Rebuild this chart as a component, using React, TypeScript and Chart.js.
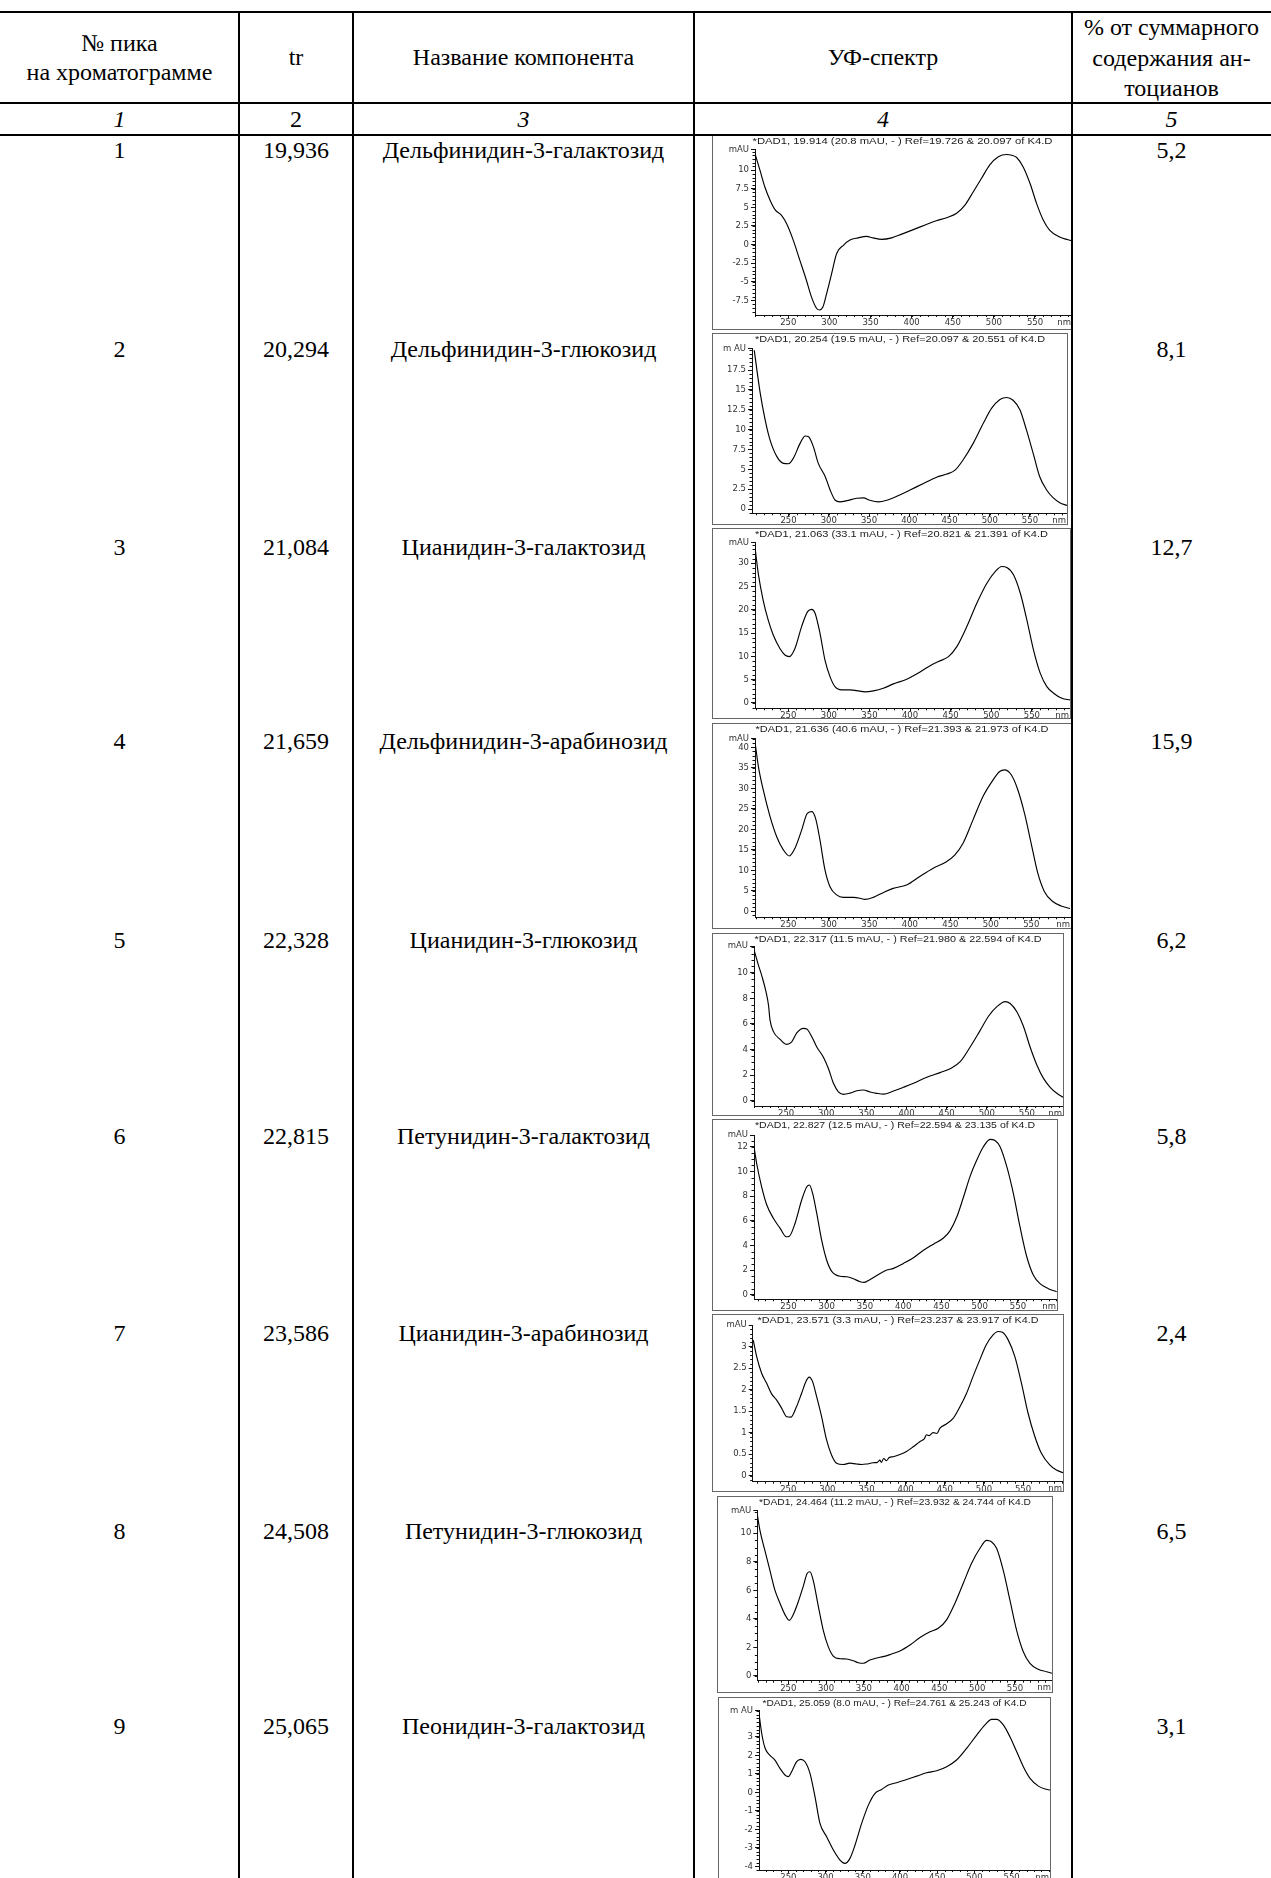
import React, { useEffect, useRef } from 'react';
import { Chart, registerables } from 'chart.js';

Chart.register(...registerables);

// ---------------- table data ----------------
const peakNumbers = ['1', '2', '3', '4', '5', '6', '7', '8', '9'];
const retentionTimes = ['19,936', '20,294', '21,084', '21,659', '22,328', '22,815', '23,586', '24,508', '25,065'];
const componentNames = [
  'Дельфинидин-3-галактозид',
  'Дельфинидин-3-глюкозид',
  'Цианидин-3-галактозид',
  'Дельфинидин-3-арабинозид',
  'Цианидин-3-глюкозид',
  'Петунидин-3-галактозид',
  'Цианидин-3-арабинозид',
  'Петунидин-3-глюкозид',
  'Пеонидин-3-галактозид',
];
const percentages = ['5,2', '8,1', '12,7', '15,9', '6,2', '5,8', '2,4', '6,5', '3,1'];
const spectrumTitles = [
  '*DAD1, 19.914 (20.8 mAU, - ) Ref=19.726 & 20.097 of K4.D',
  '*DAD1, 20.254 (19.5 mAU, - ) Ref=20.097 & 20.551 of K4.D',
  '*DAD1, 21.063 (33.1 mAU, - ) Ref=20.821 & 21.391 of K4.D',
  '*DAD1, 21.636 (40.6 mAU, - ) Ref=21.393 & 21.973 of K4.D',
  '*DAD1, 22.317 (11.5 mAU, - ) Ref=21.980 & 22.594 of K4.D',
  '*DAD1, 22.827 (12.5 mAU, - ) Ref=22.594 & 23.135 of K4.D',
  '*DAD1, 23.571 (3.3 mAU, - ) Ref=23.237 & 23.917 of K4.D',
  '*DAD1, 24.464 (11.2 mAU, - ) Ref=23.932 & 24.744 of K4.D',
  '*DAD1, 25.059 (8.0 mAU, - ) Ref=24.761 & 25.243 of K4.D',
];
const unitLabels = ['mAU', 'm AU', 'mAU', 'mAU', 'mAU', 'mAU', 'mAU', 'mAU', 'm AU'];
const headerCol1 = ['№ пика', 'на хроматограмме'];
const headerCol2 = 'tr';
const headerCol3 = 'Название компонента';
const headerCol4 = 'УФ-спектр';
const headerCol5 = ['% от суммарного', 'содержания ан-', 'тоцианов'];
const columnNumbers = ['1', '2', '3', '4', '5'];

// ---------------- spectra (wavelength nm / absorbance mAU) ----------------
const nm1 = [209.5, 215.5, 221.6, 227.7, 233.8, 242, 248, 256, 264, 272, 278, 284.5, 288, 292, 296.6, 302.7, 308.8, 317, 325, 335, 345, 353, 363.5, 375.7, 388, 402, 418, 430, 442.5, 454.7, 464.8, 475, 485, 495, 505.4, 515.5, 521.6, 527.7, 535.8, 544, 552, 560, 568, 580, 590, 595];
const au1 = [12.2, 10, 7.7, 6.0, 4.7, 3.9, 2.8, 0.6, -2.1, -4.8, -7.0, -8.6, -8.8, -8.4, -6.6, -3.9, -1.2, -0.1, 0.6, 0.9, 1.1, 0.9, 0.7, 0.9, 1.4, 2.0, 2.7, 3.2, 3.6, 4.2, 5.3, 7.1, 8.9, 10.7, 11.8, 12.1, 12.0, 11.7, 10.4, 8.2, 5.5, 3.3, 1.9, 1.0, 0.65, 0.5];

const nm2 = [207.4, 210.7, 214.8, 221, 227, 235.5, 243.8, 250, 256, 264.5, 270.7, 275, 281, 287, 295.5, 301.7, 308, 314, 322.4, 334.8, 343, 351, 361.7, 372, 384.5, 401, 417.6, 434, 446.5, 456.9, 467, 479.6, 492, 502.4, 512.7, 521, 529, 537.5, 545.8, 554, 562, 570.7, 579, 587, 596];
const au2 = [20.0, 17.5, 14.6, 11.2, 8.7, 6.6, 5.75, 5.7, 6.4, 8.3, 9.2, 9.1, 7.8, 5.75, 4.1, 2.4, 1.1, 0.9, 1.05, 1.35, 1.4, 1.1, 0.9, 1.1, 1.6, 2.4, 3.2, 4.0, 4.4, 4.9, 6.2, 8.3, 10.8, 12.7, 13.8, 14.05, 13.7, 12.5, 9.9, 7.0, 4.1, 2.4, 1.4, 0.8, 0.45];

const nm3 = [208.9, 213, 219, 225.3, 231.5, 239.7, 245.9, 251.2, 258.2, 266.4, 273.8, 278.8, 282.9, 289, 295.2, 301.4, 307.5, 315.8, 326, 334.3, 344.5, 354.8, 367, 379.5, 395.9, 408, 422.6, 435, 447.3, 457.6, 469.9, 482.2, 494.6, 504.8, 513, 519.2, 527.4, 535.7, 543.9, 552, 560.3, 568.5, 576.8, 587, 597];
const au3 = [33.6, 27.8, 22.1, 17.8, 14.6, 11.7, 10.3, 9.95, 11.7, 16.4, 19.6, 20.1, 19.3, 15.0, 9.2, 5.65, 3.5, 2.8, 2.8, 2.65, 2.4, 2.6, 3.15, 4.1, 5.1, 6.2, 7.8, 8.9, 9.95, 12.1, 16.4, 21.4, 25.7, 28.2, 29.3, 29.1, 27.5, 23.6, 17.8, 11.4, 6.4, 3.5, 2.1, 1.0, 0.65];

const nm4 = [209, 213, 219, 227.4, 235.6, 243.8, 251.2, 258.2, 266.4, 273.4, 279.2, 284.1, 289, 295.2, 301.4, 309.6, 317.8, 330.2, 338.4, 344.5, 354.8, 367, 379.5, 395.9, 412.3, 428.8, 445.2, 455.4, 465.7, 478, 490.3, 502.6, 510.9, 517, 525.2, 533.4, 541.6, 549.8, 558, 566.2, 576.5, 586.8, 597.8];
const au4 = [41, 35.3, 29.6, 23.1, 18.2, 15.0, 13.5, 15.4, 19.8, 23.9, 24.3, 22.3, 17.4, 10.1, 6.0, 4.0, 3.4, 3.4, 3.2, 2.9, 3.4, 4.55, 5.6, 6.4, 8.5, 10.5, 12.1, 13.7, 16.6, 22.3, 28.0, 32.0, 34.1, 34.5, 33.3, 29.6, 23.9, 16.6, 9.3, 4.8, 2.4, 1.3, 0.7];

const nm5 = [210, 215, 220, 225, 228, 230, 234.2, 242.5, 250.8, 257, 263.3, 271.6, 275.8, 282, 288.2, 296.5, 302.8, 309, 315.2, 321.5, 329.8, 338, 346.4, 354.7, 363, 371.3, 383.8, 396.2, 408.7, 425.3, 442, 454.4, 466.9, 479.3, 491.8, 502.2, 512.6, 523, 529.2, 537.5, 545.8, 554, 562.4, 570.7, 579, 587.3, 595];
const au5 = [11.8, 10.7, 9.7, 8.5, 7.5, 6.3, 5.4, 4.8, 4.4, 4.6, 5.3, 5.65, 5.6, 5.0, 4.2, 3.4, 2.5, 1.36, 0.7, 0.5, 0.6, 0.78, 0.84, 0.68, 0.58, 0.52, 0.76, 1.05, 1.36, 1.83, 2.2, 2.5, 3.05, 4.2, 5.5, 6.6, 7.35, 7.75, 7.6, 6.95, 5.8, 4.2, 2.8, 1.75, 1.05, 0.58, 0.27];

const nm6 = [205, 208.6, 215, 221.6, 230.3, 239, 247, 251.3, 258.7, 267.4, 274, 277.4, 281.7, 287, 293.5, 300, 306.6, 317.5, 326.2, 334.9, 343.7, 349, 356.8, 369.8, 378.5, 387.3, 400.3, 413.4, 426.5, 439.5, 452.6, 461.3, 470, 478.7, 487.4, 496, 504.8, 513.5, 520, 526.6, 535.3, 544, 552.7, 561.4, 570, 578.8, 589.7, 600.6];
const au6 = [12.0, 10.6, 8.75, 7.3, 6.2, 5.4, 4.7, 4.75, 5.8, 7.7, 8.75, 8.9, 8.2, 6.6, 4.4, 2.8, 1.9, 1.5, 1.46, 1.3, 1.05, 1.0, 1.24, 1.73, 2.0, 2.14, 2.54, 3.0, 3.6, 4.1, 4.6, 5.2, 6.3, 7.9, 9.6, 10.9, 12.0, 12.6, 12.5, 12.0, 10.4, 8.2, 5.5, 3.1, 1.6, 0.9, 0.49, 0.24];

const nm7 = [205.3, 209.6, 216, 222.3, 228.7, 235, 241.5, 247.9, 253.4, 259.8, 267, 272.6, 276.8, 281, 286.2, 292.6, 299, 305.3, 311.7, 320.2, 328.7, 337.2, 343.6, 350, 358.5, 364, 367, 369, 372, 375.5, 379, 384, 392.6, 401, 409.6, 418, 424, 426.6, 430, 435, 440, 443.6, 452, 460.6, 469, 477.7, 486, 494.7, 503, 511.7, 518, 523.6, 530.8, 539.4, 547.9, 556.4, 565, 573.4, 584, 592.6, 601];
const au7 = [3.15, 2.77, 2.38, 2.15, 1.9, 1.76, 1.57, 1.37, 1.36, 1.57, 1.91, 2.19, 2.29, 2.19, 1.84, 1.37, 0.83, 0.48, 0.29, 0.26, 0.29, 0.27, 0.26, 0.27, 0.30, 0.31, 0.36, 0.31, 0.40, 0.35, 0.42, 0.44, 0.49, 0.56, 0.67, 0.79, 0.86, 0.95, 0.93, 1.0, 0.98, 1.1, 1.2, 1.33, 1.59, 1.91, 2.3, 2.69, 3.04, 3.27, 3.35, 3.33, 3.16, 2.77, 2.15, 1.45, 0.91, 0.52, 0.25, 0.13, 0.07];

const nm8 = [209, 212.5, 219, 225.7, 232.4, 239, 245.6, 251.3, 256.6, 263.2, 269.9, 275.1, 278.7, 283, 289.7, 296.3, 302.9, 309.5, 318.4, 327.2, 336, 342.6, 349.3, 358, 367, 375.7, 384.5, 397.8, 411, 424.3, 437.5, 448.5, 459.5, 470.6, 481.6, 492.6, 503.7, 512.5, 519, 525.7, 534.5, 543.4, 552.2, 561, 569.8, 580.8, 591.9, 599];
const au8 = [11.3, 10.2, 8.8, 7.4, 6.0, 5.1, 4.3, 3.9, 4.3, 5.2, 6.3, 7.2, 7.3, 6.7, 4.9, 3.2, 2.06, 1.4, 1.21, 1.19, 1.07, 0.93, 0.89, 1.12, 1.26, 1.36, 1.5, 1.75, 2.17, 2.69, 3.1, 3.34, 3.93, 5.1, 6.5, 7.9, 8.95, 9.5, 9.4, 8.95, 7.4, 5.3, 3.2, 1.7, 0.89, 0.47, 0.30, 0.19];

const nm9 = [210.6, 214.2, 218.7, 225.4, 232, 238.8, 245.5, 250, 255.4, 261.2, 266.6, 272.4, 279.1, 285.8, 292.5, 301.5, 310.5, 319.4, 326.1, 332.8, 339.6, 348.5, 357.5, 366.5, 375.4, 384.4, 395.5, 409, 422.4, 435.8, 449.3, 462.7, 476, 489.5, 503, 514.2, 523, 529.9, 538.8, 547.8, 556.8, 565.7, 574.7, 585.9, 594.8, 601.5];
const au9 = [4.28, 3.2, 2.4, 2.0, 1.75, 1.3, 0.94, 0.85, 1.2, 1.66, 1.79, 1.66, 1.03, -0.23, -1.68, -2.4, -3.12, -3.66, -3.84, -3.57, -2.85, -1.68, -0.69, -0.05, 0.16, 0.4, 0.52, 0.7, 0.88, 1.06, 1.17, 1.39, 1.75, 2.38, 3.1, 3.65, 3.95, 3.95, 3.65, 3.0, 2.2, 1.39, 0.76, 0.34, 0.18, 0.13];

const wavelengths = [nm1, nm2, nm3, nm4, nm5, nm6, nm7, nm8, nm9];
const absorbances = [au1, au2, au3, au4, au5, au6, au7, au8, au9];

// ---------------- axis ticks ----------------
const xTickLabels = [250, 300, 350, 400, 450, 500, 550];
const xMinorStep = 10;
const yTicks1 = [-7.5, -5, -2.5, 0, 2.5, 5, 7.5, 10];
const yTicks2 = [0, 2.5, 5, 7.5, 10, 12.5, 15, 17.5];
const yTicks3 = [0, 5, 10, 15, 20, 25, 30];
const yTicks4 = [0, 5, 10, 15, 20, 25, 30, 35, 40];
const yTicks5 = [0, 2, 4, 6, 8, 10];
const yTicks6 = [0, 2, 4, 6, 8, 10, 12];
const yTicks7 = [0, 0.5, 1, 1.5, 2, 2.5, 3];
const yTicks8 = [0, 2, 4, 6, 8, 10];
const yTicks9 = [-4, -3, -2, -1, 0, 1, 2, 3];
const yTickSets = [yTicks1, yTicks2, yTicks3, yTicks4, yTicks5, yTicks6, yTicks7, yTicks8, yTicks9];
const yMinorSteps = [0.5, 0.5, 1, 1, 0.5, 0.5, 0.1, 0.5, 0.2];
const xMins = [209.5, 204.6, 209, 208.8, 210, 205, 204.6, 209, 210.6];
const xMaxs = [595, 596, 597, 599, 595, 601, 601, 599, 601.5];
const yMins = [-9.47, -0.54, -1.14, -1.46, -0.41, -0.37, -0.14, -0.33, -4.2];
const yMaxs = [12.8, 20.24, 34.4, 42.2, 12.09, 12.95, 3.5, 11.58, 4.42];

// ---------------- layout (page pixels) ----------------
const BOXES = [
  { left: 712, top: 135, right: 1073, bottom: 330, plotLeft: 755, plotTop: 149.3, axisY: 315, titleW: 300 },
  { left: 712, top: 333, right: 1068, bottom: 525, plotLeft: 752, plotTop: 348.3, axisY: 513.3, titleW: 290 },
  { left: 712, top: 528, right: 1071, bottom: 719, plotLeft: 755, plotTop: 542.7, axisY: 708.3, titleW: 293 },
  { left: 712, top: 723, right: 1072, bottom: 929, plotLeft: 755, plotTop: 738.3, axisY: 917.3, titleW: 293 },
  { left: 712, top: 933, right: 1064, bottom: 1116, plotLeft: 754, plotTop: 946, axisY: 1106, titleW: 287 },
  { left: 712, top: 1119, right: 1058, bottom: 1311, plotLeft: 754, plotTop: 1135, axisY: 1299.3, titleW: 280 },
  { left: 712, top: 1314, right: 1064, bottom: 1492, plotLeft: 752.7, plotTop: 1325, axisY: 1481.7, titleW: 281 },
  { left: 717, top: 1496, right: 1053, bottom: 1693, plotLeft: 757.3, plotTop: 1510.7, axisY: 1680.7, titleW: 272 },
  { left: 718, top: 1697, right: 1051, bottom: 1882, plotLeft: 759, plotTop: 1710.7, axisY: 1870, titleW: 264 },
];
const COLS = [0, 239, 353, 694, 1072, 1271];
const LINE_TOP = 12;
const LINE_HEAD = 103;
const LINE_NUM = 135;
const ROW_CY = [150, 349, 547, 741, 940, 1136, 1333, 1531, 1726];
const SERIF = '"Liberation Serif", "Times New Roman", serif';
const SANS = '"DejaVu Sans", "Liberation Sans", sans-serif';
const TEXT_SIZE = 24;

const minorTicksPlugin = {
  id: 'minorTicks',
  afterDraw(chart: any, _args: any, opts: any) {
    const { ctx, chartArea } = chart;
    const xs = chart.scales.x;
    const ys = chart.scales.y;
    ctx.save();
    ctx.strokeStyle = '#111';
    ctx.lineWidth = 1;
    ctx.beginPath();
    const yStep = opts.yStep;
    for (let i = Math.ceil(ys.min / yStep - 1e-6); i * yStep <= ys.max + 1e-6; i++) {
      const py = Math.round(ys.getPixelForValue(i * yStep)) + 0.5;
      ctx.moveTo(chartArea.left - 2.5, py);
      ctx.lineTo(chartArea.left, py);
    }
    const xStep = opts.xStep;
    for (let i = Math.ceil(xs.min / xStep - 1e-6); i * xStep <= xs.max + 1e-6; i++) {
      const px = Math.round(xs.getPixelForValue(i * xStep)) + 0.5;
      ctx.moveTo(px, chartArea.bottom);
      ctx.lineTo(px, chartArea.bottom + 2);
    }
    ctx.stroke();
    ctx.font = '8.5px ' + SANS;
    ctx.fillStyle = '#333';
    ctx.textAlign = 'right';
    ctx.textBaseline = 'middle';
    ctx.fillText('nm', chartArea.right - 1, chartArea.bottom + 7.5);
    ctx.restore();
  },
};

const titlePlugin = {
  id: 'specTitle',
  afterDraw(chart: any, _args: any, opts: any) {
    const ctx = chart.ctx;
    ctx.save();
    ctx.font = '9.5px "Liberation Sans", Arial, sans-serif';
    ctx.fillStyle = '#1a1a1a';
    ctx.textAlign = 'center';
    ctx.textBaseline = 'middle';
    const w = ctx.measureText(opts.text).width;
    ctx.translate(opts.cx, opts.cy);
    ctx.scale(opts.width / w, 1);
    ctx.fillText(opts.text, 0, 0);
    ctx.restore();
  },
};

function Spectrum({ idx }: { idx: number }) {
  const ref = useRef<HTMLCanvasElement>(null);
  const g = BOXES[idx];
  const w = g.right - g.left;
  const h = g.bottom - g.top;
  const cw = w - 2;
  const ch = h - 2;
  useEffect(() => {
    const canvas = ref.current;
    if (!canvas) return;
    const ox = g.left + 1;
    const oy = g.top + 1;
    const xsArr = wavelengths[idx];
    const ysArr = absorbances[idx];
    const yMax = yMaxs[idx];
    const yMajors = yTickSets[idx];
    const tickFont = { family: SANS, size: 8.5 };
    const chart = new Chart(canvas, {
      type: 'line',
      data: {
        datasets: [
          {
            data: xsArr.map((x, i) => ({ x, y: ysArr[i] })),
            borderColor: '#000',
            borderWidth: 1.15,
            pointRadius: 0,
            fill: false,
            cubicInterpolationMode: 'monotone',
          },
        ],
      },
      options: {
        responsive: false,
        animation: false,
        devicePixelRatio: 1,
        events: [],
        layout: { padding: { top: g.plotTop - oy, right: 0, left: 0, bottom: 0 } },
        plugins: {
          legend: { display: false },
          title: { display: false },
          tooltip: { enabled: false },
          minorTicks: { yStep: yMinorSteps[idx], xStep: xMinorStep },
          specTitle: { text: spectrumTitles[idx], cx: cw / 2 + 10, cy: 5, width: g.titleW },
        } as any,
        scales: {
          x: {
            type: 'linear',
            min: xMins[idx],
            max: xMaxs[idx],
            afterBuildTicks: (s: any) => {
              s.ticks = xTickLabels.map((v) => ({ value: v }));
            },
            afterFit: (s: any) => {
              s.height = oy + ch - g.axisY;
            },
            ticks: {
              autoSkip: false,
              maxRotation: 0,
              minRotation: 0,
              padding: -1,
              font: tickFont,
              color: '#333',
              callback: (v: any) => String(v),
            },
            grid: { drawOnChartArea: false, drawTicks: true, tickLength: 3.5, color: '#111', lineWidth: 1 },
            border: { display: true, color: '#111', width: 1 },
          },
          y: {
            type: 'linear',
            min: yMins[idx],
            max: yMax,
            afterBuildTicks: (s: any) => {
              s.ticks = [...yMajors.map((v) => ({ value: v })), { value: yMax }];
            },
            afterFit: (s: any) => {
              s.width = g.plotLeft - ox;
            },
            ticks: {
              autoSkip: false,
              padding: 2,
              font: tickFont,
              color: '#333',
              callback: (v: any) => (Math.abs(v - yMax) < 1e-9 ? unitLabels[idx] : String(v)),
            },
            grid: { drawOnChartArea: false, drawTicks: true, tickLength: 4, color: '#111', lineWidth: 1 },
            border: { display: true, color: '#111', width: 1 },
          },
        },
      } as any,
      plugins: [minorTicksPlugin, titlePlugin],
    });
    return () => chart.destroy();
  }, [idx]);
  return (
    <div
      style={{
        position: 'absolute',
        left: g.left,
        top: g.top,
        width: w,
        height: h,
        border: '1px solid #666',
        boxSizing: 'border-box',
        background: '#fff',
      }}
    >
      <canvas ref={ref} width={cw} height={ch} style={{ display: 'block', width: cw, height: ch }} />
    </div>
  );
}

function Cell({ col, cy, text, italic }: { col: number; cy: number; text: string; italic?: boolean }) {
  return (
    <div
      style={{
        position: 'absolute',
        left: COLS[col],
        width: COLS[col + 1] - COLS[col],
        top: cy - 15,
        height: 30,
        lineHeight: '30px',
        textAlign: 'center',
        fontFamily: SERIF,
        fontSize: TEXT_SIZE,
        fontStyle: italic ? 'italic' : 'normal',
        color: '#000',
        whiteSpace: 'nowrap',
      }}
    >
      {text}
    </div>
  );
}

function HLine({ y }: { y: number }) {
  return <div style={{ position: 'absolute', left: 0, width: 1271, top: y - 1, height: 2, background: '#000', zIndex: 2 }} />;
}
function VLine({ x }: { x: number }) {
  return <div style={{ position: 'absolute', left: x - 1, width: 2, top: LINE_TOP, height: 1878 - LINE_TOP, background: '#000', zIndex: 2 }} />;
}

export default function App() {
  return (
    <div
      style={{
        position: 'absolute',
        left: 0,
        top: 0,
        width: 1271,
        height: 1878,
        overflow: 'hidden',
        background: '#fff',
      }}
    >
      <Cell col={0} cy={43} text={headerCol1[0]} />
      <Cell col={0} cy={72} text={headerCol1[1]} />
      <Cell col={1} cy={57} text={headerCol2} />
      <Cell col={2} cy={57} text={headerCol3} />
      <Cell col={3} cy={57} text={headerCol4} />
      <Cell col={4} cy={27} text={headerCol5[0]} />
      <Cell col={4} cy={58} text={headerCol5[1]} />
      <Cell col={4} cy={88} text={headerCol5[2]} />
      {columnNumbers.map((n, i) => (
        <Cell key={'n' + i} col={i} cy={119} text={n} italic={i !== 1} />
      ))}
      {peakNumbers.map((p, i) => (
        <React.Fragment key={'r' + i}>
          <Cell col={0} cy={ROW_CY[i]} text={p} />
          <Cell col={1} cy={ROW_CY[i]} text={retentionTimes[i]} />
          <Cell col={2} cy={ROW_CY[i]} text={componentNames[i]} />
          <Cell col={4} cy={ROW_CY[i]} text={percentages[i]} />
        </React.Fragment>
      ))}
      {BOXES.map((_, i) => (
        <Spectrum key={'s' + i} idx={i} />
      ))}
      <HLine y={LINE_TOP} />
      <HLine y={LINE_HEAD} />
      <HLine y={LINE_NUM} />
      {COLS.slice(1, 5).map((x) => (
        <VLine key={'v' + x} x={x} />
      ))}
    </div>
  );
}
